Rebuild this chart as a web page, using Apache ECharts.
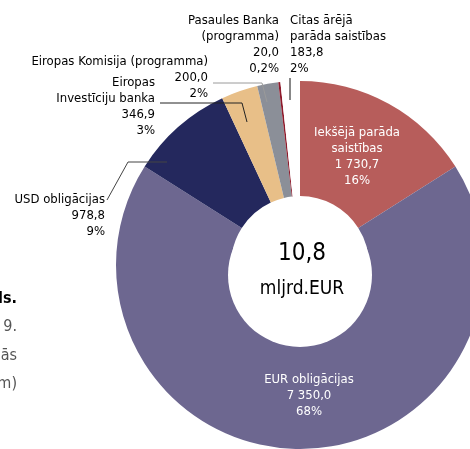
<!DOCTYPE html>
<html>
<head>
<meta charset="utf-8">
<script src="https://cdn.jsdelivr.net/npm/echarts@6/dist/echarts.min.js"></script>
<style>
  html, body { margin: 0; padding: 0; background: #fff; }
  #chart { width: 470px; height: 449px; }
</style>
</head>
<body>
<div id="chart"></div>
<script>
const categories = ['Iekšējā parāda saistības', 'EUR obligācijas', 'USD obligācijas', 'Eiropas Investīciju banka',
  'Eiropas Komisija (programma)', 'Pasaules Banka (programma)', 'Citas ārējā parāda saistības'];
const labelNames = ['Iekšējā parāda\nsaistības', 'EUR obligācijas', 'USD obligācijas', 'Eiropas\nInvestīciju banka',
  'Eiropas Komisija (programma)', 'Pasaules Banka\n(programma)', 'Citas ārējā\nparāda saistības'];
const values = [1730.7, 7350.0, 978.8, 346.9, 200.0, 20.0, 183.8];
const shares = ['16%', '68%', '9%', '3%', '2%', '0,2%', '2%'];
const totalUnit = 'mljrd.EUR';
const sideText = ['ls.', '9.', 'ās', 'm)'];

const colors = ['#b75d5b', '#6d6790', '#24285d', '#e8bf88', '#8b8f98', '#8e1b2c', '#ffffff'];
const FONT = '"DejaVu Sans Condensed", "Liberation Sans Narrow", sans-serif';
const pieCenter = [300, 265];
const pieRadius = [69, 184];

// where each label sits (and its leader line)
const labelSpots = [
  { x: 357, y: 157, align: 'center', va: 'middle' },
  { x: 309, y: 396, align: 'center', va: 'middle' },
  { x: 105, y: 192, align: 'right', va: 'top', line: [[107, 200], [128, 162], [167, 162]] },
  { x: 155, y: 75, align: 'right', va: 'top', line: [[160, 103], [242, 103], [247, 122]] },
  { x: 208, y: 54, align: 'right', va: 'top', line: [[213, 83], [262, 83], [267, 102]] },
  { x: 279, y: 13, align: 'right', va: 'top' },
  { x: 290, y: 13, align: 'left', va: 'top', line: [[290, 78], [290, 89], [290, 100]] }
];
const lineColors = ['#000', '#000', '#444', '#222', '#9a9a9a', '#000', '#111'];

function fmt(v) {
  const parts = v.toFixed(1).split('.');
  return parts[0].replace(/\B(?=(\d{3})+(?!\d))/g, ' ') + ',' + parts[1];
}

const total = values.reduce((a, b) => a + b, 0) / 1000;

const chart = echarts.init(document.getElementById('chart'));

// slices
const sliceData = values.map((v, i) => ({ name: categories[i], value: v, itemStyle: { color: colors[i] } }));

// same slices again, invisible, carrying the labels and leader lines on top
const labelData = values.map((v, i) => {
  const inside = i < 2;
  return {
    name: categories[i],
    value: v,
    itemStyle: { color: 'transparent' },
    label: {
      position: inside ? 'inside' : 'outside',
      color: inside ? '#fff' : '#000',
      align: labelSpots[i].align
    },
    labelLine: {
      show: !!labelSpots[i].line,
      lineStyle: { color: lineColors[i], width: 1 }
    }
  };
});

const option = {
  animation: false,
  backgroundColor: '#fff',
  series: [{
    type: 'pie',
    z: 2,
    center: pieCenter,
    radius: pieRadius,
    startAngle: 90,
    clockwise: true,
    silent: true,
    itemStyle: { borderWidth: 0 },
    label: { show: false },
    labelLine: { show: false },
    data: sliceData
  }, {
    type: 'pie',
    z: 3,
    center: pieCenter,
    radius: pieRadius,
    startAngle: 90,
    clockwise: true,
    silent: true,
    avoidLabelOverlap: false,
    itemStyle: { borderWidth: 0 },
    label: {
      show: true,
      fontFamily: FONT,
      fontSize: 13,
      lineHeight: 16,
      formatter: p => labelNames[p.dataIndex] + '\n' + fmt(p.value) + '\n' + shares[p.dataIndex]
    },
    labelLayout: function (params) {
      const s = labelSpots[params.dataIndex];
      const out = { x: s.x, y: s.y, align: s.align, verticalAlign: s.va, hideOverlap: false };
      if (s.line) out.labelLinePoints = s.line;
      return out;
    },
    data: labelData
  }],
  graphic: [
    { type: 'circle', shape: { cx: 300, cy: 275, r: 72 }, style: { fill: '#fff' }, z: 10 },
    { type: 'text', x: 302, y: 254, z: 11,
      style: { text: total.toFixed(1).replace('.', ','), font: '24px ' + FONT, fill: '#000', align: 'center', verticalAlign: 'middle' } },
    { type: 'text', x: 302, y: 289, z: 11,
      style: { text: totalUnit, font: '19px ' + FONT, fill: '#000', align: 'center', verticalAlign: 'middle' } },
    { type: 'text', x: 17, y: 299, style: { text: sideText[0], font: 'bold 16px ' + FONT, fill: '#000', align: 'right', verticalAlign: 'middle' } },
    { type: 'text', x: 17, y: 327, style: { text: sideText[1], font: '16px ' + FONT, fill: '#555', align: 'right', verticalAlign: 'middle' } },
    { type: 'text', x: 17, y: 356, style: { text: sideText[2], font: '16px ' + FONT, fill: '#555', align: 'right', verticalAlign: 'middle' } },
    { type: 'text', x: 17, y: 384, style: { text: sideText[3], font: '16px ' + FONT, fill: '#555', align: 'right', verticalAlign: 'middle' } }
  ]
};

chart.setOption(option);
</script>
</body>
</html>
